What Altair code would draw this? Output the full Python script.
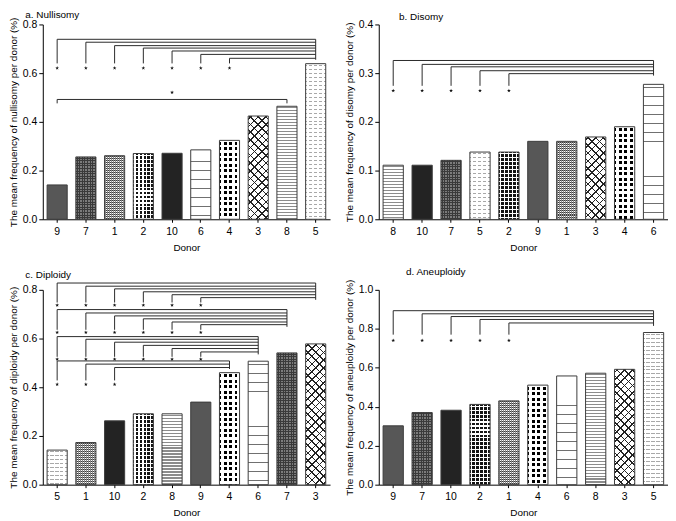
import math
import altair as alt
import pandas as pd

# ---------------- data ----------------
a_donors = ["9", "7", "1", "2", "10", "6", "4", "3", "8", "5"]
a_values = [0.141, 0.256, 0.261, 0.270, 0.271, 0.285, 0.324, 0.424, 0.464, 0.639]
b_donors = ["8", "10", "7", "5", "2", "9", "1", "3", "4", "6"]
b_values = [0.111, 0.111, 0.121, 0.138, 0.138, 0.160, 0.160, 0.169, 0.190, 0.277]
c_donors = ["5", "1", "10", "2", "8", "9", "4", "6", "7", "3"]
c_values = [0.142, 0.173, 0.262, 0.291, 0.291, 0.339, 0.460, 0.507, 0.541, 0.578]
d_donors = ["9", "7", "10", "2", "1", "4", "6", "8", "3", "5"]
d_values = [0.302, 0.370, 0.382, 0.412, 0.430, 0.511, 0.558, 0.572, 0.592, 0.781]

# significance brackets: (from donors, to donor, bracket levels, left end, right end, star level)
a_groups = [(["9", "7", "1", "2", "10", "6", "4"], "5",
             [0.739, 0.727, 0.713, 0.703, 0.691, 0.677, 0.661], 0.640, 0.655, 0.621)]
a_pairs = [("9", "8", 0.492, 0.476, "10", 0.521)]
b_groups = [(["8", "10", "7", "5", "2"], "6",
             [0.326, 0.318, 0.313, 0.305, 0.299], 0.274, 0.295, 0.264)]
c_groups = [
    (["5", "1", "10", "2", "8", "9"], "3", [0.828, 0.815, 0.804, 0.792, 0.780, 0.768], 0.748, 0.759, 0.737),
    (["5", "1", "10", "2", "8", "9"], "7", [0.719, 0.705, 0.693, 0.681, 0.668, 0.657], 0.636, 0.648, 0.625),
    (["5", "1", "10", "2", "8", "9"], "6", [0.608, 0.597, 0.585, 0.572, 0.559, 0.545], 0.525, 0.535, 0.515),
    (["5", "1", "10"], "4", [0.508, 0.495, 0.481], 0.428, 0.475, 0.412),
]
d_groups = [(["9", "7", "10", "2", "1"], "5",
             [0.893, 0.877, 0.863, 0.848, 0.830], 0.770, 0.815, 0.740)]

titles = ["a. Nullisomy", "b. Disomy", "c. Diploidy", "d. Aneuploidy"]
ytitles = ["The mean frequency of nullisomy per donor (%)",
           "The mean frequency of disomy per donor (%)",
           "The mean frequency of diploidy per donor (%)",
           "The mean frequency of aneuploidy per donor (%)"]
ymax = [0.8, 0.4, 0.8, 1.0]
ystep = [0.2, 0.1, 0.2, 0.2]

# ---------------- styles ----------------
FONT = "Liberation Sans"
W = [289, 291, 289, 291]
H = 196
TITLE_OFFSET = [-3, -3, 3, 2]
TITLE_DX = [17, 55, 17, 62]
PAD_IN, PAD_OUT = 0.3, 0.15
CLEAR = "rgba(255,255,255,0)"
STAR = ("M0,-1L0.235,-0.324L0.951,-0.309L0.380,0.124L0.588,0.809L0,0.4"
        "L-0.588,0.809L-0.380,0.124L-0.951,-0.309L-0.235,-0.324Z")


def stripe_stops(length, period, line, bg, fg):
    stops = [(0.0, bg)]
    pos = period * 0.3
    while pos < length:
        s = pos / length
        e = min((pos + line) / length, 1.0)
        stops += [(s, bg), (s, fg), (e, fg), (e, bg)]
        pos += period
    stops.append((1.0, bg))
    return [{"offset": round(o, 5), "color": c} for o, c in stops]


def hstripes(w, h, period, line, bg, fg):
    return {"gradient": "linear", "x1": 0, "y1": 0, "x2": 0, "y2": 1,
            "stops": stripe_stops(h, period, line, bg, fg)}


def vstripes(w, h, period, line, bg, fg):
    return {"gradient": "linear", "x1": 0, "y1": 0, "x2": 1, "y2": 0,
            "stops": stripe_stops(w, period, line, bg, fg)}


def diag(w, h, period, line, bg, fg, direction):
    r = h / w
    s = (1 + r) / (1 + r * r)
    a, b = s, s * r
    L = (w + h) / math.sqrt(2)
    if direction > 0:
        x1, y1, x2, y2 = 0, 0, a, b
    else:
        x1, y1, x2, y2 = 1, 0, 1 - a, b
    return {"gradient": "linear", "x1": x1, "y1": y1, "x2": round(x2, 5), "y2": round(y2, 5),
            "stops": stripe_stops(L, period, line, bg, fg)}


def donor_fills(donor, w, h):
    if donor == "9":
        return ["#575757"]
    if donor == "10":
        return ["#232323"]
    if donor == "7":
        return [hstripes(w, h, 2.6, 1.0, "#7c7c7c", "#3a3a3a"),
                vstripes(w, h, 2.6, 1.0, CLEAR, "#3a3a3a")]
    if donor == "1":
        return [hstripes(w, h, 2.0, 1.0, "#ffffff", "#3a3a3a"),
                vstripes(w, h, 2.0, 1.0, CLEAR, "#8a8a8a")]
    if donor == "2":
        return [hstripes(w, h, 4.0, 1.1, "#141414", "#ffffff"),
                vstripes(w, h, 4.0, 1.1, CLEAR, "#ffffff")]
    if donor == "6":
        return [hstripes(w, h, 9.0, 0.8, "#ffffff", "#707070")]
    if donor == "4":
        return [hstripes(w, h, 5.5, 3.0, "#ffffff", "#000000"),
                vstripes(w, h, 5.5, 2.5, CLEAR, "#ffffff")]
    if donor == "3":
        return [diag(w, h, 5.5, 1.1, "#ffffff", "#222222", 1),
                diag(w, h, 5.5, 1.1, CLEAR, "#222222", -1)]
    if donor == "8":
        return [hstripes(w, h, 3.0, 1.3, "#ffffff", "#8c8c8c")]
    if donor == "5":
        return [hstripes(w, h, 4.0, 1.0, "#ffffff", "#a8a8a8"),
                vstripes(w, h, 5.0, 1.5, CLEAR, "#ffffff")]
    return ["#888888"]


def panel(i, donors, values, groups, pairs):
    w_plot = W[i]
    step = w_plot / (len(donors) - PAD_IN + 2 * PAD_OUT)
    bar_w = step * (1 - PAD_IN)
    xs = alt.Scale(domain=donors, paddingInner=PAD_IN, paddingOuter=PAD_OUT)
    ys = alt.Scale(domain=[0, ymax[i]], nice=False)
    nt = int(round(ymax[i] / ystep[i]))
    xaxis = alt.Axis(title="Donor", labelAngle=0, tickSize=3, labelPadding=4, titlePadding=6)
    yaxis = alt.Axis(title=ytitles[i], values=[round(k * ystep[i], 2) for k in range(nt + 1)],
                     format=".1f", tickSize=4, labelPadding=2, titlePadding=4)

    def X(f):
        return alt.X(f, type="nominal", scale=xs, axis=xaxis)

    def Y(f):
        return alt.Y(f, type="quantitative", scale=ys, axis=yaxis)

    df = pd.DataFrame({"donor": donors, "value": values})
    layers = []
    for d, v in zip(donors, values):
        h_px = v / ymax[i] * H
        sub = df[df.donor == d]
        for fill in donor_fills(d, bar_w, h_px):
            layers.append(alt.Chart(sub).mark_bar(fill=fill, strokeWidth=0)
                          .encode(x=X("donor"), y=Y("value")))
    layers.append(alt.Chart(df).mark_bar(fill="transparent", stroke="#3c3c3c", strokeWidth=1)
                  .encode(x=X("donor"), y=Y("value")))

    hrows, vrows, srows = [], [], []
    for frm, to, levels, lend, rend, sy in groups:
        for f, lv in zip(frm, levels):
            hrows.append({"x": f, "x2": to, "y": lv})
            vrows.append({"x": f, "y": lv, "y2": lend})
            srows.append({"x": f, "y": sy})
        vrows.append({"x": to, "y": max(levels), "y2": rend})
    for f, t, lv, end, sx, sy in pairs:
        hrows.append({"x": f, "x2": t, "y": lv})
        vrows.append({"x": f, "y": lv, "y2": end})
        vrows.append({"x": t, "y": lv, "y2": end})
        srows.append({"x": sx, "y": sy})

    layers.append(alt.Chart(pd.DataFrame(hrows)).mark_rule(color="#2a2a2a", strokeWidth=1)
                  .encode(x=X("x"), x2="x2:N", y=Y("y")))
    layers.append(alt.Chart(pd.DataFrame(vrows)).mark_rule(color="#2a2a2a", strokeWidth=1)
                  .encode(x=X("x"), y=Y("y"), y2="y2:Q"))
    layers.append(alt.Chart(pd.DataFrame(srows)).mark_point(shape=STAR, size=16, filled=True,
                                                             color="#111", opacity=1)
                  .encode(x=X("x"), y=Y("y")))

    return alt.layer(*layers).properties(
        width=w_plot, height=H,
        title=alt.TitleParams(titles[i], anchor="start", fontSize=10, fontWeight="normal",
                              font=FONT, color="black", offset=TITLE_OFFSET[i], dx=TITLE_DX[i]))


pa = panel(0, a_donors, a_values, a_groups, a_pairs)
pb = panel(1, b_donors, b_values, b_groups, [])
pc = panel(2, c_donors, c_values, c_groups, [])
pd_ = panel(3, d_donors, d_values, d_groups, [])

chart = alt.vconcat(
    alt.hconcat(pa, pb, spacing=14),
    alt.hconcat(pc, pd_, spacing=14),
    spacing=14,
).configure(padding=0, background="white").configure_view(stroke=None).configure_axis(
    labelFont=FONT, titleFont=FONT, labelFontSize=10.5, titleFontSize=10,
    titleFontWeight="normal", labelColor="black", titleColor="black",
    domainColor="black", tickColor="black", grid=False, domainWidth=1,
)

chart.save("out.html", embed_options={"renderer": "svg", "actions": False})
